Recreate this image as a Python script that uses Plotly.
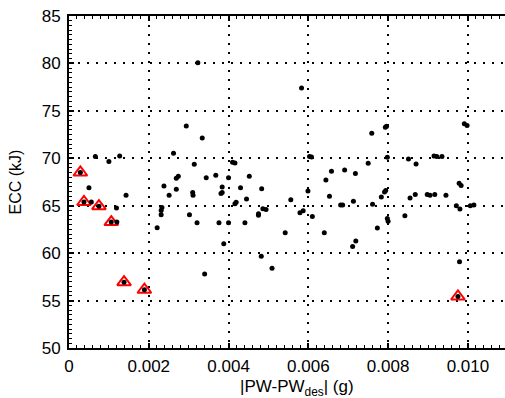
import plotly.graph_objects as go

# All runs: |PW - PW_des| (g) and ECC (kJ)
pw_dev = [
    0.00323, 0.00294, 0.00334, 0.00066, 0.00100, 0.00127, 0.000285, 0.00262, 0.00314, 0.00269,
    0.00274, 0.00344, 0.00368, 0.00400, 0.00410, 0.00416, 0.00452, 0.00583, 0.00991, 0.00998,
    0.00793, 0.00796, 0.00759, 0.00603, 0.00608, 0.00750, 0.00798, 0.00851, 0.00870, 0.00915,
    0.00922, 0.00935, 0.00658, 0.00691, 0.00718, 0.00644, 0.00050, 0.000375, 0.00056, 0.00075,
    0.00106, 0.00120, 0.00143, 0.00119, 0.00138, 0.00189, 0.00221, 0.00231, 0.00233, 0.00231,
    0.00238, 0.00251, 0.00269, 0.00310, 0.00311, 0.00302, 0.00321, 0.00384, 0.00381, 0.00384,
    0.00376, 0.00400, 0.00388, 0.00416, 0.00419, 0.00430, 0.00445, 0.00441, 0.00475, 0.00475,
    0.00483, 0.00486, 0.00494, 0.00482, 0.00340, 0.00509, 0.00556, 0.00542, 0.00579, 0.00587,
    0.00599, 0.00610, 0.00653, 0.00640, 0.00681, 0.00686, 0.00713, 0.00711, 0.00719, 0.00761,
    0.00773, 0.00783, 0.00791, 0.00794, 0.00798, 0.00800, 0.00842, 0.00855, 0.00868, 0.00898,
    0.00905, 0.00917, 0.00945, 0.00978, 0.00983, 0.00971, 0.00980, 0.01006, 0.01015, 0.00979,
    0.00975,
]
ecc = [
    80.07, 73.40, 72.15, 70.18, 69.66, 70.25, 68.50, 70.53, 69.37, 67.90,
    68.10, 67.96, 68.20, 67.96, 69.58, 69.50, 68.10, 77.40, 73.63, 73.46,
    73.28, 73.38, 72.65, 70.18, 70.14, 69.47, 70.10, 69.93, 69.40, 70.25,
    70.18, 70.18, 68.63, 68.77, 68.39, 67.70, 66.90, 65.39, 65.39, 64.95,
    63.28, 63.28, 66.10, 64.76, 56.94, 56.14, 62.69, 64.50, 64.80, 64.06,
    67.08, 66.10, 66.73, 66.38, 66.10, 64.06, 63.20, 66.97, 66.28, 66.40,
    63.20, 63.20, 61.00, 65.22, 65.36, 66.90, 65.71, 63.20, 64.16, 63.99,
    66.80, 64.69, 64.59, 59.66, 57.79, 58.42, 65.64, 62.16, 64.27, 64.48,
    66.56, 63.85, 66.00, 62.16, 65.08, 65.08, 65.46, 60.71, 61.27, 65.15,
    62.65, 65.92, 66.45, 66.60, 63.64, 63.35, 63.95, 65.82, 66.17, 66.17,
    66.10, 66.17, 66.10, 67.37, 67.12, 65.00, 64.65, 65.00, 65.08, 59.10,
    55.43,
]

# Highlighted (Pareto) runs
front_pw = [0.000285, 0.000375, 0.00075, 0.00106, 0.00138, 0.00189, 0.00975]
front_ecc = [68.50, 65.39, 64.95, 63.28, 56.94, 56.14, 55.43]

x_ticks = [0, 0.002, 0.004, 0.006, 0.008, 0.010]
x_tick_text = ["0", "0.002", "0.004", "0.006", "0.008", "0.010"]
y_ticks = [50, 55, 60, 65, 70, 75, 80, 85]

FONT = "Liberation Sans, Arial, sans-serif"

fig = go.Figure()
fig.add_trace(go.Scatter(
    x=front_pw, y=front_ecc, mode="markers",
    marker=dict(symbol="triangle-up-open", size=12, color="#ff0000",
                line=dict(width=2, color="#ff0000")),
    hoverinfo="skip", showlegend=False,
))
fig.add_trace(go.Scatter(
    x=pw_dev, y=ecc, mode="markers",
    marker=dict(symbol="circle", size=5, color="black", line=dict(width=0)),
    showlegend=False,
))

axis_common = dict(
    showline=True, linecolor="black", linewidth=2,
    ticks="inside", ticklen=5, tickwidth=1.5, tickcolor="black",
    showgrid=True, gridcolor="black", gridwidth=2, griddash="2px,7px",
    zeroline=False, automargin=False,
    tickfont=dict(family=FONT, size=17, color="black"),
)

fig.update_xaxes(
    range=[0, 0.01093], tickvals=x_ticks, ticktext=x_tick_text,
    mirror="allticks", ticklabelstandoff=2,
    minor=dict(dtick=0.0002, ticks="inside", ticklen=3, tickcolor="black", tickwidth=1, showgrid=False),
    **axis_common,
)
fig.update_yaxes(
    range=[50, 85], tickvals=y_ticks, ticklabelstandoff=3,
    minor=dict(dtick=0.5, ticks="inside", ticklen=3, tickcolor="black", tickwidth=1, showgrid=False),
    **axis_common,
)

fig.add_annotation(
    text="|PW-PW<sub>des</sub>| (g)", xref="paper", yref="paper",
    x=0.523, y=-0.08, xanchor="center", yanchor="top", showarrow=False,
    font=dict(family=FONT, size=17, color="black"),
)
fig.add_annotation(
    text="ECC (kJ)", xref="paper", yref="paper",
    x=-0.125, y=0.5, xanchor="center", yanchor="middle", textangle=-90, showarrow=False,
    font=dict(family=FONT, size=16, color="black"),
)

fig.update_layout(
    width=505, height=398,
    margin=dict(l=69, r=0, t=16, b=50),
    plot_bgcolor="white", paper_bgcolor="white",
)

fig.write_html(
    "out.html",
    config={"displayModeBar": False},
    post_script="document.body.style.margin='0';document.body.style.overflow='hidden';",
)
